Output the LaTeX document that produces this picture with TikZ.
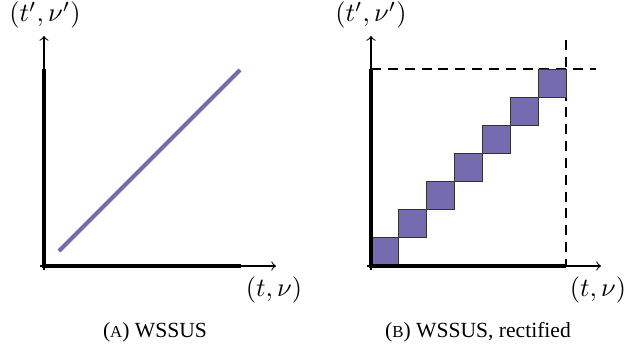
\documentclass[tikz,border=0pt]{standalone}
\usepackage{fontspec}
\newfontfamily\capfont{Liberation Serif}
\newcommand{\fakesc}[1]{{\fontsize{6.4}{7}\selectfont #1}}
\begin{document}
\begin{tikzpicture}[x=0.38pt,y=-0.38pt,
    axis/.style={draw=black,line width=0.4pt,->},
    heavy/.style={draw=black,line width=1.5pt},
    diag/.style={draw=colP,line width=1.5pt},
    bin/.style={draw=black!80,line width=0.4pt,fill=colP},
    guide/.style={draw=black,dash pattern=on 3.8pt off 2.6pt,line width=0.4pt},
    lab/.style={inner sep=0pt,anchor=center},
    subcap/.style={inner sep=0pt,anchor=center,font=\capfont\fontsize{8.2}{10}\selectfont}]
  \useasboundingbox (0,0) rectangle (626,352);
  \definecolor{colP}{HTML}{756BB1}
  \def\bw{27.9}
  \def\bh{28.1}
  % panel izquierdo
  \coordinate (oA) at (44,266);
  \coordinate (xA) at (276,266);
  \coordinate (yA) at (44,36);
  \coordinate (sxA) at (40,266);
  \coordinate (syA) at (44,270);
  \coordinate (topA) at (44,69);
  \coordinate (endA) at (241,266);
  \coordinate (dA0) at (59,251);
  \coordinate (dA1) at (240,70);
  \draw[axis] (sxA) -- (xA);
  \draw[axis] (syA) -- (yA);
  \draw[diag] (dA0) -- (dA1);
  \draw[heavy] (topA) -- (oA) -- (endA);
  \node[lab] (yLabA) at (45,15) {$(t',\nu')$};
  \node[lab] (xLabA) at (274,290) {$(t,\nu)$};
  \node[subcap] (capA) at (155,332) {(\fakesc{A}) WSSUS};
  % panel derecho
  \coordinate (oB) at (371,266);
  \coordinate (xB) at (601,266);
  \coordinate (yB) at (371,36);
  \coordinate (sxB) at (367,266);
  \coordinate (syB) at (371,270);
  \coordinate (topB) at (371,69);
  \coordinate (endB) at (566,266);
  \coordinate (vB0) at (566,40);
  \coordinate (hB1) at (596,69);
  \draw[axis] (sxB) -- (xB);
  \draw[axis] (syB) -- (yB);
  \draw[guide] (vB0) -- (endB);
  \draw[guide] (topB) -- (hB1);
  \foreach \i in {0,...,6}{
    \draw[bin] (371+\i*\bw,266-\i*\bh) rectangle ++(\bw,-\bh);
  }
  \draw[heavy] (topB) -- (oB) -- (endB);
  \node[lab] (yLabB) at (371,15) {$(t',\nu')$};
  \node[lab] (xLabB) at (598,290) {$(t,\nu)$};
  \node[subcap] (capB) at (478,332) {(\fakesc{B}) WSSUS, rectified};
\end{tikzpicture}
\end{document}
